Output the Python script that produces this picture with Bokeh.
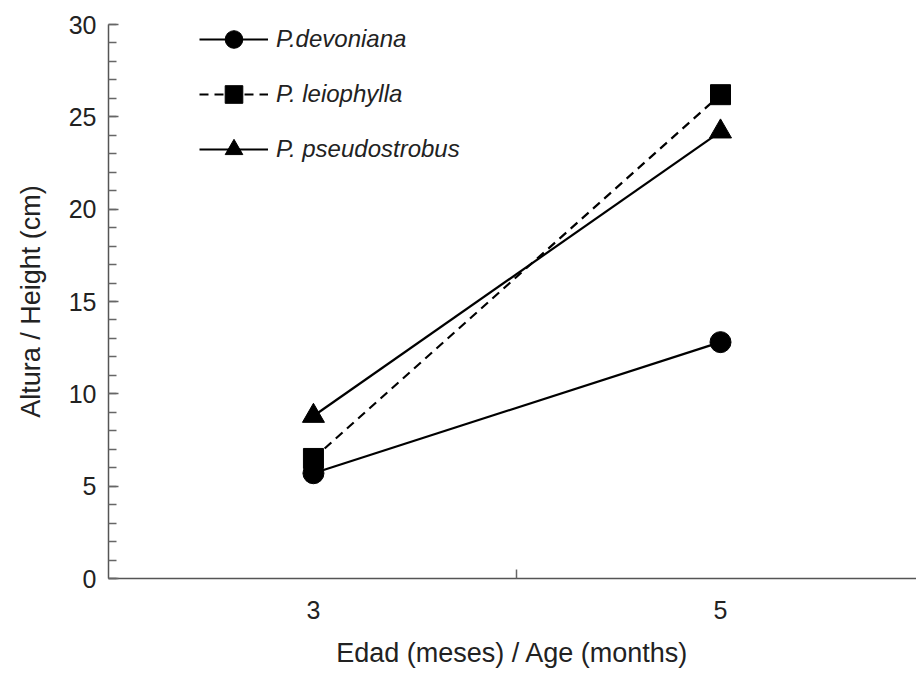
from bokeh.plotting import figure
from bokeh.models import Range1d, FixedTicker, SingleIntervalTicker, Legend
from bokeh.embed import file_html
from bokeh.resources import INLINE

# Data
ages = [3, 5]
age_tick_labels = ["3", "5"]
devoniana = [5.7, 12.8]
leiophylla = [6.5, 26.2]
pseudostrobus = [8.8, 24.2]
series_names = ["P.devoniana", "P. leiophylla", "P. pseudostrobus"]

FONT = "Liberation Sans"
TXT = "#222222"

p = figure(width=916, height=673, output_backend="svg", toolbar_location=None,
           x_range=Range1d(1.993, 5.963), y_range=Range1d(0, 30),
           min_border_left=108, min_border_right=0, min_border_top=24, min_border_bottom=95)
p.outline_line_color = None
p.xgrid.visible = False
p.ygrid.visible = False
p.background_fill_color = "white"
p.border_fill_color = "white"

# lines + markers
r1l = p.line(ages, devoniana, line_color="black", line_width=2.2)
r1m = p.scatter(ages, devoniana, marker="circle", size=21, fill_color="black", line_color="black")
r2l = p.line(ages, leiophylla, line_color="black", line_width=2.2, line_dash="9 6")
r2m = p.scatter(ages, leiophylla, marker="square", size=20, fill_color="black", line_color="black")
r3l = p.line(ages, pseudostrobus, line_color="black", line_width=2.2)
r3m = p.scatter(ages, pseudostrobus, marker="triangle", size=22, fill_color="black", line_color="black")

legend = Legend(items=[(series_names[0], [r1l, r1m]),
                       (series_names[1], [r2l, r2m]),
                       (series_names[2], [r3l, r3m])],
                location=(91, 407), orientation="vertical")
legend.border_line_color = None
legend.background_fill_alpha = 0
legend.padding = 0
legend.margin = 0
legend.glyph_width = 69
legend.glyph_height = 44
legend.label_height = 44
legend.spacing = 11
legend.label_standoff = 8
legend.label_text_font = FONT
legend.label_text_font_style = "italic"
legend.label_text_font_size = "24px"
legend.label_text_color = TXT
p.add_layout(legend, "center")

# x axis
xa = p.xaxis[0]
xa.ticker = FixedTicker(ticks=ages, minor_ticks=[4])
xa.major_label_overrides = {a: l for a, l in zip(ages, age_tick_labels)}
xa.major_tick_in = 0
xa.major_tick_out = 0
xa.minor_tick_in = 9
xa.minor_tick_out = 0
xa.minor_tick_line_color = "#666666"
xa.minor_tick_line_width = 1.5
xa.axis_line_color = "#555555"
xa.axis_line_width = 1.5
xa.major_label_text_font = FONT
xa.major_label_text_font_size = "25px"
xa.major_label_text_color = TXT
xa.major_label_standoff = 22
xa.axis_label = "Edad (meses) / Age (months)"
xa.axis_label_text_font = FONT
xa.axis_label_text_font_style = "normal"
xa.axis_label_text_font_size = "27px"
xa.axis_label_text_color = TXT
xa.axis_label_standoff = 16

# y axis
ya = p.yaxis[0]
ya.ticker = SingleIntervalTicker(interval=5, num_minor_ticks=5)
ya.major_tick_in = 10
ya.major_tick_out = 0
ya.minor_tick_in = 8
ya.minor_tick_out = 0
ya.major_tick_line_color = "#666666"
ya.minor_tick_line_color = "#666666"
ya.major_tick_line_width = 1.5
ya.minor_tick_line_width = 1.5
ya.axis_line_color = "#555555"
ya.axis_line_width = 1.5
ya.major_label_text_font = FONT
ya.major_label_text_font_size = "25px"
ya.major_label_text_color = TXT
ya.major_label_standoff = 12
ya.axis_label = "Altura / Height (cm)"
ya.axis_label_text_font = FONT
ya.axis_label_text_font_style = "normal"
ya.axis_label_text_font_size = "27px"
ya.axis_label_text_color = TXT
ya.axis_label_standoff = 20

open("out.html", "w").write(file_html(p, INLINE))
